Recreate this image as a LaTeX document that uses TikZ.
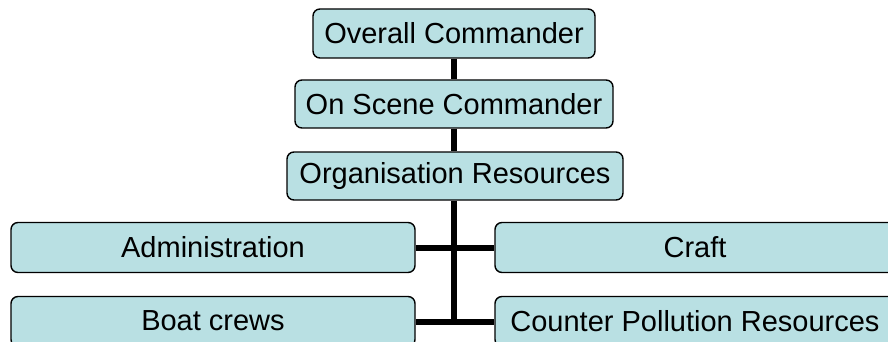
\documentclass[tikz,border=0pt]{standalone}
\usepackage{fontspec}
\setmainfont{Liberation Sans}
\definecolor{boxfill}{RGB}{185,224,227}
\tikzset{
  orgbox/.style={draw=black, line width=1.4pt, fill=boxfill, rounded corners=7pt,
    inner sep=0pt, anchor=center, font=\fontsize{29}{34}\selectfont},
  link/.style={line width=6pt, black}
}
\begin{document}
\begin{tikzpicture}[x=1pt,y=-1pt]
\clip (0,0) rectangle (888,342);
\useasboundingbox (0,0) rectangle (888,342);
\node[orgbox, minimum width=282pt, minimum height=49pt] (oc) at (454,33.5) {Overall Commander};
\node[orgbox, minimum width=318pt, minimum height=48pt] (osc) at (454,104) {On Scene Commander};
\node[orgbox, minimum width=336pt, minimum height=48pt] (org) at (455,176) {Organisation Resources};
\node[orgbox, minimum width=404pt, minimum height=50pt] (adm) at (213,247.5) {Administration};
\node[orgbox, minimum width=400pt, minimum height=50pt] (craft) at (695,247.5) {Craft};
\node[orgbox, minimum width=404pt, minimum height=50pt] (boat) at (213,321.5) {\raisebox{2pt}{Boat crews}};
\node[orgbox, minimum width=400pt, minimum height=50pt] (cpr) at (695,321.5) {\raisebox{2pt}{Counter Pollution Resources}};
\coordinate (bot) at (454,321.5);
\draw[link] (oc.south) -- (osc.north);
\draw[link] (osc.south) -- (org.north -| osc.south);
\draw[link] (org.south -| bot) -- (bot);
\draw[link] (adm.east) -- (craft.west);
\draw[link] (boat.east) -- (cpr.west);
\end{tikzpicture}
\end{document}
